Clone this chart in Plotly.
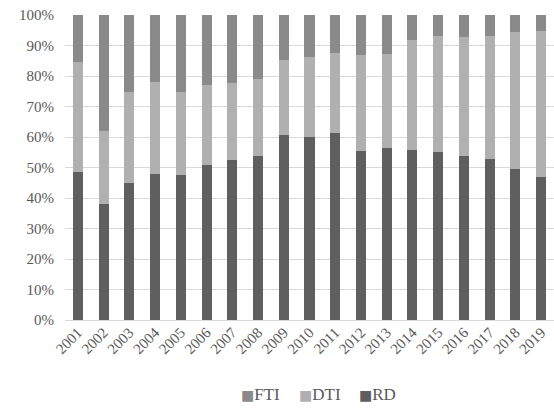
import plotly.graph_objects as go

years = [str(y) for y in range(2001, 2020)]
rd = [48.5, 38.0, 45.0, 47.9, 47.5, 50.8, 52.5, 53.9, 60.7, 60.1, 61.2, 55.4, 56.5, 55.7, 55.1, 53.8, 52.8, 49.5, 46.8]
dti = [36.2, 24.0, 29.7, 30.2, 27.2, 26.1, 25.3, 25.1, 24.5, 26.2, 26.4, 31.5, 30.7, 36.1, 38.1, 39.0, 40.4, 44.9, 48.0]
fti = [round(100 - r - d, 1) for r, d in zip(rd, dti)]
ytick_vals = list(range(0, 101, 10))
ytick_text = [f"{v}%" for v in ytick_vals]

c_rd = "#5f5f5f"
c_dti = "#b0b0b0"
c_fti = "#8a8a8a"

font_family = "Liberation Serif"

fig = go.Figure()
fig.add_trace(go.Bar(x=years, y=rd, name="RD", marker=dict(color=c_rd, line=dict(width=0))))
fig.add_trace(go.Bar(x=years, y=dti, name="DTI", marker=dict(color=c_dti, line=dict(width=0))))
fig.add_trace(go.Bar(x=years, y=fti, name="FTI", marker=dict(color=c_fti, line=dict(width=0))))

# Legend drawn as text entries (order FTI, DTI, RD), placed below the plot
legend_entries = [("FTI", c_fti, 0.356), ("DTI", c_dti, 0.474), ("RD", c_rd, 0.598)]
annotations = []
for name, color, xpos in legend_entries:
    annotations.append(dict(
        text=f"<span style='color:{color};font-family:DejaVu Sans;font-size:14px'>■</span>{name}",
        x=xpos, y=-0.243, xref="paper", yref="paper",
        xanchor="left", yanchor="middle", showarrow=False,
        font=dict(family=font_family, size=17, color="#595959"),
    ))

fig.update_layout(
    barmode="stack",
    bargap=0.61,
    width=554,
    height=410,
    margin=dict(l=65, r=0, t=15, b=90),
    paper_bgcolor="white",
    plot_bgcolor="white",
    showlegend=False,
    annotations=annotations,
    font=dict(family=font_family, size=15, color="#595959"),
    xaxis=dict(
        tickangle=-45,
        showgrid=False,
        showline=False,
        ticks="",
        tickfont=dict(family=font_family, size=15, color="#595959"),
    ),
    yaxis=dict(
        range=[0, 100],
        tickvals=ytick_vals,
        ticktext=ytick_text,
        showgrid=True,
        gridcolor="#d9d9d9",
        gridwidth=1,
        zeroline=True,
        zerolinecolor="#d9d9d9",
        zerolinewidth=1,
        showline=False,
        ticks="",
        ticklabelstandoff=10,
        tickfont=dict(family=font_family, size=15, color="#595959"),
    ),
)

fig.write_html(
    "out.html",
    config={"displayModeBar": False},
    post_script="document.body.style.margin='0';",
)
